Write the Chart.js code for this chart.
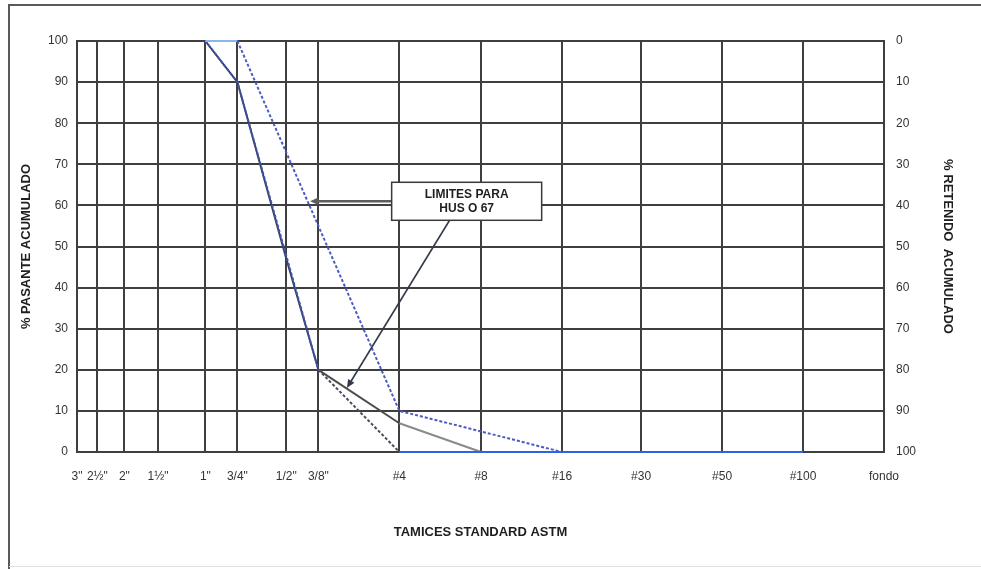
<!DOCTYPE html>
<html>
<head>
<meta charset="utf-8">
<script src="https://cdn.jsdelivr.net/npm/chart.js@4.4.1/dist/chart.umd.min.js"></script>
<style>
  html, body { margin: 0; padding: 0; background: #ffffff; }
  canvas { display: block; }
</style>
</head>
<body>
<canvas id="granulometria" width="981" height="569"></canvas>
<script>
// Tamices ASTM: rótulo y abertura (mm)
const tamices = ['3"', '2½"', '2"', '1½"', '1"', '3/4"', '1/2"', '3/8"', '#4', '#8', '#16', '#30', '#50', '#100', 'fondo'];
const aberturaMm = [75, 63, 50, 37.5, 25, 19, 12.5, 9.5, 4.75, 2.36, 1.18, 0.6, 0.3, 0.15, 0.075];

// % pasante acumulado en cada tamiz (null = tamiz sin dato)
const pasanteMuestra = [null, null, null, null, 100, 90, 47, 20, 7, 0, null, null, null, null, null];
const limiteSuperior = [null, null, null, null, 100, 100, null, 55, 10, 5, 0, 0, 0, 0, null];
const limiteInferior = [null, null, null, null, 100, 90, null, 20, 0, 0, 0, 0, 0, 0, null];

// Marcas de los ejes de porcentaje
const marcasPorcentaje = [0, 10, 20, 30, 40, 50, 60, 70, 80, 90, 100];

// Texto de la nota de límites
const notaHuso = ['LIMITES PARA', 'HUS O 67'];

function puntos(valores) {
  const out = [];
  valores.forEach((v, i) => { if (v !== null) out.push({ x: aberturaMm[i], y: v }); });
  return out;
}

const FUENTE = "'Liberation Sans', Arial, sans-serif";
const GRILLA = '#3f3f3f';

const enCero = ctx => ctx.p0.parsed.y === 0 && ctx.p1.parsed.y === 0;
const enCien = ctx => ctx.p0.parsed.y === 100 && ctx.p1.parsed.y === 100;

// Marco de la hoja y fondo blanco
const marco = {
  id: 'marco',
  beforeDraw(chart) {
    const c = chart.ctx;
    c.save();
    c.fillStyle = '#ffffff';
    c.fillRect(0, 0, chart.width, chart.height);
    c.strokeStyle = '#5a5a5a';
    c.lineWidth = 2;
    c.beginPath();
    c.moveTo(9, chart.height);
    c.lineTo(9, 5);
    c.lineTo(chart.width, 5);
    c.stroke();
    c.strokeStyle = '#e2e2e2';
    c.lineWidth = 1;
    c.beginPath();
    c.moveTo(9, chart.height - 2.5);
    c.lineTo(chart.width, chart.height - 2.5);
    c.stroke();
    c.restore();
  }
};

// Nota con flechas hacia las curvas
const nota = {
  id: 'nota',
  afterDatasetsDraw(chart) {
    const c = chart.ctx;
    const sx = chart.scales.x, sy = chart.scales.y;
    const cx = sx.getPixelForValue(2.67), cy = sy.getPixelForValue(61);
    const w = 150, h = 38;
    const bx = cx - w / 2, by = cy - h / 2;

    function flecha(x0, y0, x1, y1, color, ancho) {
      const ang = Math.atan2(y1 - y0, x1 - x0);
      const L = 9, A = 0.42;
      c.strokeStyle = color;
      c.lineWidth = ancho;
      c.beginPath();
      c.moveTo(x0, y0);
      c.lineTo(x1 - Math.cos(ang) * L * 0.8, y1 - Math.sin(ang) * L * 0.8);
      c.stroke();
      c.fillStyle = color;
      c.beginPath();
      c.moveTo(x1, y1);
      c.lineTo(x1 - L * Math.cos(ang - A), y1 - L * Math.sin(ang - A));
      c.lineTo(x1 - L * Math.cos(ang + A), y1 - L * Math.sin(ang + A));
      c.closePath();
      c.fill();
    }

    c.save();
    // flecha horizontal hacia el límite superior
    flecha(bx, cy, sx.getPixelForValue(10.2), sy.getPixelForValue(61), '#5c5c5c', 2.5);
    // flecha oblicua hacia la curva de la muestra
    flecha(sx.getPixelForValue(3.09), by + h, sx.getPixelForValue(7.44), sy.getPixelForValue(15.6), '#333a48', 1.6);

    c.fillStyle = '#ffffff';
    c.fillRect(bx, by, w, h);
    c.strokeStyle = '#3a3a3a';
    c.lineWidth = 1.5;
    c.strokeRect(bx, by, w, h);
    c.fillStyle = '#1e1e1e';
    c.font = 'bold 12px ' + FUENTE;
    c.textAlign = 'center';
    c.textBaseline = 'middle';
    c.fillText(notaHuso[0], cx, cy - 7);
    c.fillText(notaHuso[1], cx, cy + 7);
    c.restore();
  }
};

new Chart(document.getElementById('granulometria'), {
  type: 'line',
  data: {
    datasets: [
      {
        label: 'Límite superior',
        data: puntos(limiteSuperior),
        borderColor: '#4a5cc0',
        borderWidth: 2,
        borderDash: [3, 2],
        pointRadius: 0,
        clip: 3,
        segment: {
          borderColor: ctx => enCero(ctx) ? '#2f62e6' : (enCien(ctx) ? '#8fb4ec' : undefined),
          borderDash: ctx => (enCero(ctx) || enCien(ctx)) ? [] : undefined
        }
      },
      {
        label: 'Límite inferior',
        data: puntos(limiteInferior),
        borderColor: '#3f55b8',
        borderWidth: 2,
        borderDash: [3, 2],
        pointRadius: 0,
        clip: 3,
        segment: {
          borderColor: ctx => enCero(ctx) ? '#2f62e6' : (ctx.p0.parsed.y === 20 ? '#4a4d62' : undefined),
          borderDash: ctx => enCero(ctx) ? [] : undefined
        }
      },
      {
        label: 'Muestra',
        data: puntos(pasanteMuestra),
        borderColor: '#3b3f55',
        borderWidth: 2,
        pointRadius: 0,
        clip: 3,
        segment: {
          borderColor: ctx => ctx.p0.parsed.y < 10 ? '#8a8a8a' : (ctx.p0.parsed.y <= 20 ? '#4b4b4b' : undefined)
        }
      }
    ]
  },
  options: {
    responsive: false,
    animation: false,
    events: [],
    layout: { padding: { top: 41, left: 0, right: 0, bottom: 0 } },
    plugins: { legend: { display: false }, tooltip: { enabled: false } },
    scales: {
      x: {
        type: 'logarithmic',
        reverse: true,
        min: aberturaMm[aberturaMm.length - 1],
        max: aberturaMm[0],
        afterBuildTicks: s => { s.ticks = aberturaMm.map(v => ({ value: v })); },
        afterFit: s => { s.height = 117; },
        grid: { color: GRILLA, lineWidth: 2, drawTicks: false },
        border: { color: GRILLA, width: 2 },
        ticks: {
          autoSkip: false,
          maxRotation: 0,
          minRotation: 0,
          padding: 17,
          color: '#333333',
          font: { family: FUENTE, size: 12 },
          callback: (v) => {
            const i = aberturaMm.indexOf(v);
            return i >= 0 ? tamices[i] : '';
          }
        },
        title: {
          display: true,
          text: 'TAMICES STANDARD ASTM',
          color: '#1e1e1e',
          font: { family: FUENTE, size: 13, weight: 'bold' },
          padding: { top: 0, bottom: 29 }
        }
      },
      y: {
        type: 'linear',
        position: 'left',
        min: 0,
        max: 100,
        afterBuildTicks: s => { s.ticks = marcasPorcentaje.map(v => ({ value: v })); },
        afterFit: s => { s.width = 77; },
        grid: { color: GRILLA, lineWidth: 2, drawTicks: false },
        border: { color: GRILLA, width: 2 },
        ticks: {
          padding: 9,
          color: '#333333',
          font: { family: FUENTE, size: 12 }
        },
        title: {
          display: true,
          text: '% PASANTE ACUMULADO',
          color: '#1e1e1e',
          font: { family: FUENTE, size: 13, weight: 'bold' },
          padding: { top: 19, bottom: 0 }
        }
      },
      y2: {
        type: 'linear',
        position: 'right',
        reverse: true,
        min: 0,
        max: 100,
        afterBuildTicks: s => { s.ticks = marcasPorcentaje.map(v => ({ value: v })); },
        afterFit: s => { s.width = 97; },
        grid: { drawOnChartArea: false, drawTicks: false },
        border: { color: GRILLA, width: 2 },
        ticks: {
          padding: 12,
          color: '#333333',
          font: { family: FUENTE, size: 12 }
        },
        title: {
          display: true,
          text: '% RETENIDO  ACUMULADO',
          color: '#1e1e1e',
          font: { family: FUENTE, size: 13, weight: 'bold' },
          padding: { top: 26, bottom: 0 }
        }
      }
    }
  },
  plugins: [marco, nota]
});
</script>
</body>
</html>
